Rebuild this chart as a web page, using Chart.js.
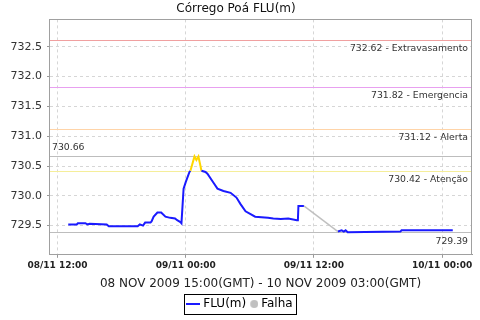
<!DOCTYPE html>
<html>
<head>
<meta charset="utf-8">
<script src="https://cdn.jsdelivr.net/npm/chart.js@4.4.0/dist/chart.umd.min.js"></script>
<style>
html, body { margin: 0; padding: 0; background: #fff; }
</style>
</head>
<body>
<canvas id="chart" width="480" height="320"></canvas>
<script>
// horas contadas desde 08/11/2009 00:00 (hora local)
var horas = [13.0, 13.8, 13.9, 14.6, 14.8, 15.0, 16.6, 16.8, 19.5, 19.7, 20.0, 20.2, 20.7, 20.8, 21.0, 21.35, 21.7, 22.1, 22.55, 23.0, 23.2, 23.5, 23.6,
             23.8, 24.0, 24.35, 24.44, 24.82, 25.0, 25.19, 25.38, 25.47, 25.85, 26.03, 26.6, 26.97, 27.53, 28.2, 28.75, 29.13, 29.6, 30.5,
             31.7, 32.2, 32.9, 33.6, 34.4, 34.5, 34.55, 35.06, 36.6, 38.25, 38.6, 38.8, 38.97, 39.16, 44.1, 44.2, 49.0];
var nivel = [729.52, 729.52, 729.54, 729.54, 729.52, 729.53, 729.52, 729.49, 729.49, 729.52, 729.50, 729.55, 729.55, 729.57, 729.65, 729.72, 729.72, 729.65, 729.63, 729.62, 729.59, 729.56, 729.54,
             730.12, 730.23, 730.40, 730.42, 730.66, 730.60, 730.66, 730.50, 730.42, 730.40, 730.37, 730.22, 730.12, 730.08, 730.05, 729.97, 729.86, 729.74, 729.65,
             729.63, 729.62, 729.61, 729.62, 729.59, 729.59, 729.83, 729.83, null, 729.40, 729.42, 729.40, 729.42, 729.39, 729.40, 729.42, 729.42];

// trecho sem dados (falha)
var falhaHoras = [35.06, 38.25];
var falhaNivel = [729.83, 729.40];

// cotas de referencia
var limites = [732.62, 731.82, 731.12, 730.42];
var limitesNomes = ['Extravasamento', 'Emergencia', 'Alerta', 'Atenção'];
var limitesCores = ['#f0a0a0', '#e8a0f0', '#ffd4a8', '#f5ee9a'];

var yTicks = [729.5, 730.0, 730.5, 731.0, 731.5, 732.0, 732.5];
var xTicks = [12, 24, 36, 48];
var xTickLabels = ['08/11 12:00', '09/11 00:00', '09/11 12:00', '10/11 00:00'];

var AZUL = '#1a1aff';
var AMARELO = '#ffd700';
var CINZA = '#c0c0c0';
var FONTE = '"DejaVu Sans", sans-serif';

var validos = nivel.filter(function(v){ return v !== null; });
var nivelMax = Math.max.apply(null, validos);
var nivelMin = Math.min.apply(null, validos);

var pontos = horas.map(function(h, i){ return { x: h, y: nivel[i] }; });
var pontosFalha = falhaHoras.map(function(h, i){ return { x: h, y: falhaNivel[i] }; });

// simbolos da legenda
function simbolo(tipo, cor){
	var c = document.createElement('canvas');
	c.width = 14; c.height = 8;
	var g = c.getContext('2d');
	if (tipo == 'linha') {
		g.strokeStyle = cor; g.lineWidth = 2;
		g.beginPath(); g.moveTo(0, 4); g.lineTo(14, 4); g.stroke();
	} else {
		g.fillStyle = cor;
		g.beginPath(); g.arc(10, 4, 4, 0, Math.PI * 2); g.fill();
	}
	return c;
}

var linhasPlugin = {
	id: 'linhas',
	afterLayout: function(chart){
		// empurra a legenda um pouco para a direita
		chart.legend.left += 5;
		chart.legend.right += 5;
	},
	beforeDatasetsDraw: function(chart){
		var ctx = chart.ctx, area = chart.chartArea, y = chart.scales.y;
		ctx.save();
		ctx.lineWidth = 1;
		ctx.font = '9.3px ' + FONTE;
		ctx.textBaseline = 'middle';

		limites.forEach(function(v, i){
			var py = Math.round(y.getPixelForValue(v)) + 0.5;
			ctx.strokeStyle = limitesCores[i];
			ctx.beginPath(); ctx.moveTo(area.left, py); ctx.lineTo(area.right, py); ctx.stroke();
			ctx.fillStyle = '#333';
			ctx.textAlign = 'right';
			ctx.fillText(v.toFixed(2) + ' - ' + limitesNomes[i], area.right - 4, py + 8);
		});

		// maximo e minimo
		ctx.strokeStyle = '#bdbdbd';
		var pMax = Math.round(y.getPixelForValue(nivelMax)) + 0.5;
		ctx.beginPath(); ctx.moveTo(area.left, pMax); ctx.lineTo(area.right, pMax); ctx.stroke();
		ctx.textAlign = 'left';
		ctx.fillText(nivelMax.toFixed(2), area.left + 3, pMax - 9);

		var pMin = Math.round(y.getPixelForValue(nivelMin)) + 0.5;
		ctx.beginPath(); ctx.moveTo(area.left, pMin); ctx.lineTo(area.right, pMin); ctx.stroke();
		ctx.textAlign = 'right';
		ctx.fillText(nivelMin.toFixed(2), area.right - 4, pMin + 9);
		ctx.restore();
	},
	afterDraw: function(chart){
		var ctx = chart.ctx, area = chart.chartArea;
		ctx.save();
		ctx.strokeStyle = '#a0a0a0';
		ctx.lineWidth = 1;
		ctx.strokeRect(Math.round(area.left) + 0.5, Math.round(area.top) + 0.5,
			Math.round(area.right - area.left) - 1, Math.round(area.bottom - area.top));

		// caixa da legenda
		var hb = chart.legend.legendHitBoxes;
		if (hb && hb.length) {
			var esq = hb[0].left - 5;
			var ult = hb[hb.length - 1];
			var dir = ult.left + ult.width + 4;
			var meio = hb[0].top + hb[0].height / 2;
			ctx.strokeStyle = '#000';
			ctx.strokeRect(Math.round(esq) + 0.5, Math.round(meio - 10) + 0.5, Math.round(dir - esq), 20);
		}
		ctx.restore();
	}
};

var config = {
	type: 'line',
	data: {
		datasets: [{
			label: 'FLU(m)',
			data: pontos,
			borderColor: AZUL,
			borderWidth: 2,
			pointRadius: 0,
			spanGaps: false,
			tension: 0,
			pointStyle: simbolo('linha', AZUL),
			segment: {
				borderColor: function(c){
					return (c.p0.parsed.y >= limites[3] && c.p1.parsed.y >= limites[3]) ? AMARELO : AZUL;
				}
			}
		}, {
			label: 'Falha',
			data: pontosFalha,
			borderColor: CINZA,
			borderWidth: 1.5,
			pointRadius: 0,
			pointStyle: simbolo('ponto', CINZA)
		}]
	},
	options: {
		responsive: false,
		animation: false,
		devicePixelRatio: 1,
		layout: { padding: { left: 0, right: 8, top: 0, bottom: 0 } },
		plugins: {
			title: {
				display: true,
				text: 'Córrego Poá FLU(m)',
				color: '#111',
				font: { family: FONTE, size: 12, weight: 'normal' },
				padding: { top: 2, bottom: 3 }
			},
			legend: {
				position: 'bottom',
				labels: {
					usePointStyle: true,
					boxWidth: 8,
					boxHeight: 8,
					padding: 1,
					color: '#000',
					font: { family: FONTE, size: 12 }
				}
			},
			tooltip: { enabled: false }
		},
		scales: {
			x: {
				type: 'linear',
				min: 11.2,
				max: 50.8,
				afterBuildTicks: function(axis){
					axis.ticks = xTicks.map(function(v){ return { value: v }; });
				},
				ticks: {
					autoSkip: false,
					maxRotation: 0,
					padding: 2,
					color: '#222',
					font: { family: FONTE, size: 9, weight: 'bold' },
					callback: function(v){ return xTickLabels[xTicks.indexOf(v)]; }
				},
				grid: { color: '#d6d6d6', tickLength: 3, tickColor: '#999', drawTicks: true },
				border: { display: true, color: '#999', dash: [3, 3] },
				title: {
					display: true,
					text: '08 NOV 2009 15:00(GMT) - 10 NOV 2009 03:00(GMT)',
					color: '#222',
					font: { family: FONTE, size: 12 },
					padding: { top: 4, bottom: 6 }
				}
			},
			y: {
				min: 729.01,
				max: 732.96,
				afterBuildTicks: function(axis){
					axis.ticks = yTicks.map(function(v){ return { value: v }; });
				},
				afterFit: function(scale){ scale.width = 49; },
				ticks: {
					padding: 5,
					color: '#333',
					font: { family: FONTE, size: 11 },
					callback: function(v){ return v.toFixed(1); }
				},
				grid: { color: '#d6d6d6', tickLength: 2, tickColor: '#999' },
				border: { display: true, color: '#999', dash: [3, 3] }
			}
		}
	},
	plugins: [linhasPlugin]
};

var canvas = document.getElementById('chart').getContext('2d');
window.grafico = new Chart(canvas, config);
</script>
</body>
</html>
